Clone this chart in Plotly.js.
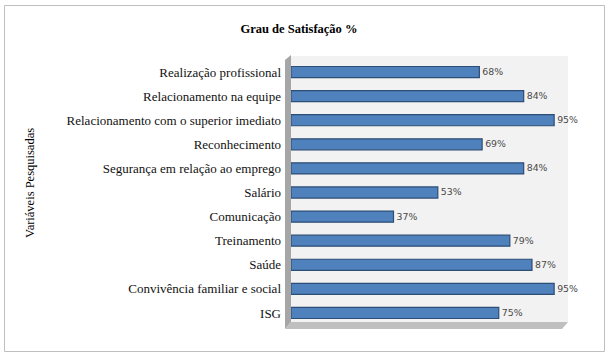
<!DOCTYPE html>
<html>
<head>
<meta charset="utf-8">
<script src="https://cdn.plot.ly/plotly-3.0.1.min.js"></script>
<style>
html,body{margin:0;padding:0;background:#fff;}
#chart{width:611px;height:359px;}
</style>
</head>
<body>
<div id="chart"></div>
<script>
const categories = [
  "Realização profissional",
  "Relacionamento na equipe",
  "Relacionamento com o superior imediato",
  "Reconhecimento",
  "Segurança em relação ao emprego",
  "Salário",
  "Comunicação",
  "Treinamento",
  "Saúde",
  "Convivência familiar e social",
  "ISG"
];
const values = [68, 84, 95, 69, 84, 53, 37, 79, 87, 95, 75];
const valueLabels = values.map(v => v + "%");
const chartTitle = "Grau de Satisfação %";
const yTitle = "Variáveis Pesquisadas";

const SERIF = "'Liberation Serif', 'DejaVu Serif', 'Times New Roman', Times, serif";

// plot area: x 291..568 px, y 60..325 px
const L = 291, R = 568, T = 60, B = 325;
const W = R - L, H = B - T;
const px = x => (x - L) / W;
const py = y => (B - y) / H;

const trace = {
  type: "bar",
  orientation: "h",
  y: categories,
  x: values,
  text: valueLabels,
  textposition: "outside",
  cliponaxis: false,
  textfont: {family: "DejaVu Sans", size: 11, color: "#4a4a4a"},
  marker: {color: "#4F81BD", line: {color: "#2C4D75", width: 1.2}},
  hoverinfo: "none"
};

function path(pts){
  return "M" + pts.map(p => px(p[0]).toFixed(4) + "," + py(p[1]).toFixed(4)).join(" L") + " Z";
}

const layout = {
  width: 611, height: 359,
  margin: {l: L, r: 611 - R, t: T, b: 359 - B, pad: 0},
  paper_bgcolor: "#ffffff",
  plot_bgcolor: "rgba(0,0,0,0)",
  showlegend: false,
  bargap: 0.54,
  title: {
    text: "<b>" + chartTitle + "</b>",
    font: {family: SERIF, size: 12.5, color: "#000"},
    x: 299 / 611, xref: "container", xanchor: "center",
    y: 1 - 29 / 359, yref: "container", yanchor: "middle"
  },
  xaxis: {
    range: [0, 100],
    showgrid: false, zeroline: false, showline: false,
    showticklabels: false, ticks: "", fixedrange: true
  },
  yaxis: {
    type: "category",
    categoryorder: "array",
    categoryarray: categories,
    autorange: "reversed",
    showgrid: false, zeroline: false, showline: false,
    ticks: "", ticklabelstandoff: 9,
    tickfont: {family: SERIF, size: 13, color: "#111"},
    fixedrange: true
  },
  annotations: [{
    text: yTitle,
    xref: "paper", yref: "paper",
    x: px(30), y: py(183),
    textangle: -90,
    showarrow: false,
    xanchor: "center", yanchor: "middle",
    font: {family: SERIF, size: 12.5, color: "#000"}
  }],
  shapes: [
    // outer border
    {type: "rect", xref: "paper", yref: "paper",
     x0: px(4.5), x1: px(604.5), y0: py(5.5), y1: py(351.5),
     line: {color: "#BFBFBF", width: 1}, fillcolor: "rgba(0,0,0,0)", layer: "below"},
    // back wall
    {type: "rect", xref: "paper", yref: "paper",
     x0: px(291), x1: px(568), y0: py(322), y1: py(56),
     line: {width: 0}, fillcolor: "#F2F2F2", layer: "below"},
    // side wall
    {type: "path", xref: "paper", yref: "paper",
     path: path([[285, 60], [291, 55], [291, 322], [285, 329]]),
     line: {width: 0}, fillcolor: "#A6A6A6", layer: "below"},
    // floor
    {type: "path", xref: "paper", yref: "paper",
     path: path([[291, 322], [568, 322], [562, 329], [285, 329]]),
     line: {width: 0}, fillcolor: "#BFBFBF", layer: "below"}
  ]
};

Plotly.newPlot("chart", [trace], layout, {staticPlot: true, displayModeBar: false});
</script>
</body>
</html>
